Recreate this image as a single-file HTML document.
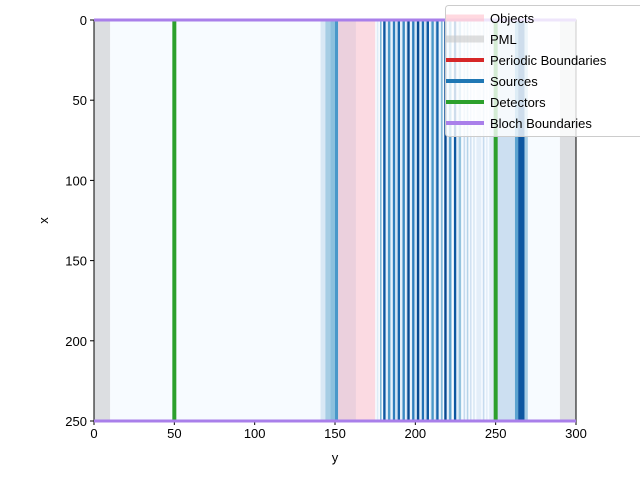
<!DOCTYPE html>
<html><head><meta charset="utf-8"><style>
body{margin:0;background:#fff;}
svg{font-family:"Liberation Sans","DejaVu Sans",sans-serif;}
</style></head><body>
<svg id="chart" width="640" height="480" viewBox="0 0 640 480">
<rect width="640" height="480" fill="#fff"/>
<g id="plot"></g>
<g id="axes"></g>
<g id="over"></g>
<g id="legend"></g>
</svg>
<script>
const xTicks=[0,50,100,150,200,250,300];
const yTicks=[0,50,100,150,200,250];
const stripeStart=[141,144,147,150,152,176,178,180,182,183,185,186,188,189,191,192,194,195,197,198,200,201,203,204,206,207,209,210,212,213,215,216,218,220,221,224,226,227,230,232,234,236,238,242,244,246,251,262,264,268];
const stripeEnd=[144,147,150,152,163,177,179,181.5,183,184.5,186,187.5,189,190.5,192,193.5,195,196.5,198,199.5,201,202.5,204,205.5,207,208.5,210,211.5,213,214.5,216,217,219.5,221,222.5,225.5,227,228.5,231,233,235,237,241,243,245,249,262,264,268,270];
const stripeVal=[0.15,0.35,0.42,0.6,0.18,0.12,0.45,0.85,0.15,0.6,0.1,0.7,0.2,0.8,0.1,0.65,0.2,0.9,0.1,0.7,0.25,0.9,0.12,0.75,0.2,0.85,0.1,0.6,0.2,0.8,0.1,0.45,0.9,0.15,0.55,0.85,0.12,0.4,0.25,0.3,0.2,0.15,0.1,0.25,0.1,0.12,0.22,0.55,0.85,0.35];
const objects=[[152,175]];
const pml=[[0,10],[290,300]];
const detectors=[50,250];
const bloch=[0,250];
const NS='http://www.w3.org/2000/svg';
const L=94,R=576,T=20,B=421;
const sx=v=>L+(v-0)*(R-L)/300;
const sy=v=>T+(v-0)*(B-T)/250;
function mk(tag,attrs,parent){const e=document.createElementNS(NS,tag);for(const k in attrs)e.setAttribute(k,attrs[k]);parent.appendChild(e);return e;}
const stops=[[0,[247,251,255]],[0.125,[222,235,247]],[0.25,[198,219,239]],[0.375,[158,202,225]],[0.5,[107,174,214]],[0.625,[66,146,198]],[0.75,[33,113,181]],[0.875,[8,81,156]],[1,[8,48,107]]];
function blues(v){for(let i=0;i<stops.length-1;i++){const a=stops[i],b=stops[i+1];if(v<=b[0]){const t=(v-a[0])/(b[0]-a[0]);const c=a[1].map((x,j)=>Math.round(x+(b[1][j]-x)*t));return `rgb(${c})`;}}return 'rgb(8,48,107)';}
const plot=document.getElementById('plot');
const bg=mk('rect',{x:L,y:T,width:R-L,height:B-T,fill:blues(0)},plot);


for(let i=0;i<stripeVal.length;i++){
  const r=mk('rect',{x:sx(stripeStart[i]),y:T,width:sx(stripeEnd[i])-sx(stripeStart[i]),height:B-T,fill:blues(stripeVal[i])},plot);
  
  
}
objects.forEach(o=>{const r=mk('rect',{x:sx(o[0]),y:T,width:sx(o[1])-sx(o[0]),height:B-T,fill:'rgba(255,192,203,0.55)'},plot);
  
  });
pml.forEach(o=>{const r=mk('rect',{x:sx(o[0]),y:T,width:sx(o[1])-sx(o[0]),height:B-T,fill:'#dcdee1'},plot);
  
  });
detectors.forEach(d=>{const l=mk('line',{x1:sx(d),x2:sx(d),y1:T,y2:B,stroke:'#2ca02c','stroke-width':4},plot);
  
  });
const ax=document.getElementById('axes');
const fr=mk('rect',{x:L,y:T,width:R-L,height:B-T,fill:'none',stroke:'#000','stroke-width':1},ax);


const over=document.getElementById('over');
bloch.forEach(b=>{const l=mk('line',{x1:L,x2:R,y1:sy(b),y2:sy(b),stroke:'#a97fea','stroke-width':3},over);
  
  });
xTicks.forEach(t=>{mk('line',{x1:sx(t),x2:sx(t),y1:B,y2:B+4,stroke:'#000'},ax);
  const tx=mk('text',{x:sx(t),y:B+17,'font-size':13,'text-anchor':'middle',fill:'#000'},ax);tx.textContent=t;
  
  });
yTicks.forEach(t=>{mk('line',{x1:L-4,x2:L,y1:sy(t),y2:sy(t),stroke:'#000'},ax);
  const tx=mk('text',{x:L-7,y:sy(t)+5,'font-size':13,'text-anchor':'end',fill:'#000'},ax);tx.textContent=t;
  
  });
const xl=mk('text',{x:(L+R)/2,y:462,'font-size':13,'text-anchor':'middle'},ax);xl.textContent='y';


const yl=mk('text',{x:48,y:(T+B)/2,'font-size':13,'text-anchor':'middle',transform:`rotate(-90 48 ${(T+B)/2})`},ax);yl.textContent='x';


const lg=document.getElementById('legend');
mk('rect',{x:445.5,y:5.5,width:200,height:131,rx:3,fill:'rgba(255,255,255,0.8)',stroke:'#ccc'},lg);
const names=['Objects','PML','Periodic Boundaries','Sources','Detectors','Bloch Boundaries'];
const cols=['rgba(255,192,203,0.6)','rgba(200,200,200,0.6)','#d62728','#1f77b4','#2ca02c','#a97fea'];
const ws=[7,7,4,4,4,4];
names.forEach((n,i)=>{const y=18+i*21;
  const g=mk('g',{},lg);
  
  
  mk('line',{x1:446,x2:484,y1:y,y2:y,stroke:cols[i],'stroke-width':ws[i]},g);
  const t=mk('text',{x:490,y:y+5,'font-size':13},g);t.textContent=n;});
</script>
</body></html>
